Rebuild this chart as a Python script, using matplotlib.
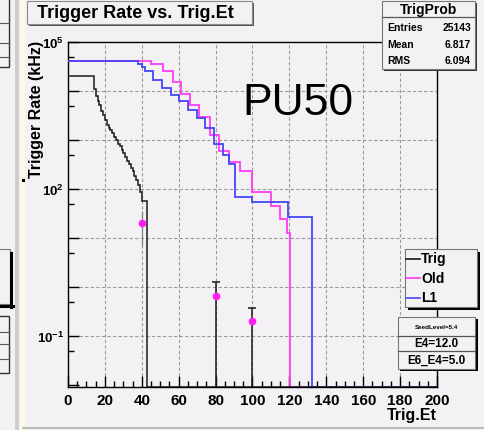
import matplotlib
matplotlib.use('Agg')
import matplotlib.pyplot as plt
from matplotlib.patches import Rectangle
from matplotlib.lines import Line2D
from matplotlib.ticker import FixedLocator, FuncFormatter, MultipleLocator

# ---------------- data ----------------
trig_edges = [0, 14, 15, 16, 17, 18, 19, 20, 21, 22, 23, 24, 25, 26, 27, 28, 29,
              30, 31, 32, 33, 34, 35, 36, 37, 38, 39, 40, 43, 200]
trig_vals = [20400, 11200, 7940, 6310, 5130, 3980, 3240, 2510, 2040, 1780, 1580,
             1380, 1170, 1000, 850, 740, 630, 540, 460, 380, 320, 270, 230, 186,
             151, 120, 89, 58, 0]

old_edges = [0, 45, 51.5, 57, 61.5, 66, 71, 77, 82, 87, 93, 100, 110, 115, 118.5, 120.5, 200]
old_vals = [41000, 36300, 25100, 15500, 8900, 5100, 2900, 1260, 600, 363, 229, 89,
            46, 25, 12.6, 0]

l1_edges = [0, 38, 40, 42, 46, 51, 56, 60, 65, 70, 74, 79, 84, 87, 90.5, 100, 119.5, 132, 200]
l1_vals = [41000, 35500, 31600, 25100, 16600, 11500, 8300, 6300, 4170, 2820, 1780,
           830, 490, 330, 69, 55, 27.5, 0]

pt_x = [40, 80, 100]
pt_y = [20, 0.67, 0.2]
pt_err_hi = [35, 1.25, 0.38]
pt_err_lo = [7, 0, 0]

stats_names = ["Entries", "Mean", "RMS"]
stats_values = ["25143", "6.817", "6.094"]
legend_names = ["Trig", "Old", "L1"]
info_lines = ["SeedLevel=5.4", "E4=12.0", "E6_E4=5.0"]

xticks = [0, 20, 40, 60, 80, 100, 120, 140, 160, 180, 200]

# ---------------- style ----------------
W, H = 484, 431
BG = '#f4f1f4'
MAG = '#ff3cf4'
BLUE = '#4646f5'
FONT = 'Liberation Sans'
plt.rcParams['font.family'] = [FONT, 'DejaVu Sans']
plt.rcParams['mathtext.fontset'] = 'custom'
plt.rcParams['mathtext.rm'] = FONT + ':bold'
plt.rcParams['mathtext.it'] = FONT + ':bold'
plt.rcParams['mathtext.bf'] = FONT + ':bold'

YMIN, YMAX = 9.2e-3, 1e5

fig = plt.figure(figsize=(W / 100, H / 100), dpi=100, facecolor=BG)


def fx(px):
    return px / W


def fy(py):
    return 1 - py / H


def rect(x0, y0, x1, y1, **kw):
    r = Rectangle((fx(x0), fy(y1)), (x1 - x0) / W, (y1 - y0) / H,
                  transform=fig.transFigure, **kw)
    fig.add_artist(r)
    return r


def hline(x0, x1, y, **kw):
    fig.add_artist(Line2D([fx(x0), fx(x1)], [fy(y), fy(y)], transform=fig.transFigure, **kw))


def vline(x, y0, y1, **kw):
    fig.add_artist(Line2D([fx(x), fx(x)], [fy(y0), fy(y1)], transform=fig.transFigure, **kw))


# ---------------- left neighbour pad decorations ----------------
rect(-5, -5, 9, 68, facecolor=BG, edgecolor='#333333', lw=1.0, zorder=1)
for yy in (24, 44, 58):
    hline(0, 9, yy, color='#555555', lw=0.8)
rect(-5, 250, 10, 305, facecolor=BG, edgecolor='#777777', lw=0.8)
vline(11.3, 254, 308, color='black', lw=2.2)
hline(0, 12.5, 307, color='black', lw=2.2)
rect(-5, 317, 9, 374, facecolor=BG, edgecolor='#333333', lw=1.0)
for yy in (333, 345, 360):
    hline(0, 9, yy, color='#555555', lw=0.8)
rect(15.5, -2, 18.5, 433, facecolor='#cfcccf', edgecolor='none')
rect(19.5, -2, 25, 433, facecolor='#fbf8e4', edgecolor='none')
rect(22, 180, 24.5, 182.5, facecolor='black', edgecolor='none')
hline(23, 484, 428.5, color='#bdbbbd', lw=1.5)

# ---------------- main axes ----------------
ax = fig.add_axes([fx(68), fy(388), (437 - 68) / W, (388 - 43) / H])
ax.set_facecolor(BG)
ax.set_yscale('log')
ax.set_xlim(0, 200)
ax.set_ylim(YMIN, YMAX)


def floor(vals):
    return [v if v > 0 else YMIN for v in vals]


ax.stairs(floor(trig_vals), trig_edges, baseline=None, color='#1a1a1a', lw=1.1, zorder=4)
ax.stairs(floor(old_vals), old_edges, baseline=None, color=MAG, lw=1.3, zorder=3)
ax.stairs(floor(l1_vals), l1_edges, baseline=None, color=BLUE, lw=1.3, zorder=3)

for x, y, hi, lo in zip(pt_x, pt_y, pt_err_hi, pt_err_lo):
    lo_v = lo if lo > 0 else YMIN
    if lo > 0:
        ax.vlines(x, lo_v, hi, color='#7a8a80', lw=0.9, zorder=5)
    else:
        ax.vlines(x, lo_v, hi, color='#1a1a1a', lw=1.1, zorder=5)
        ax.plot([x], [hi], marker='_', ms=6, mew=1.1, color='#1a1a1a', zorder=5)
ax.plot(pt_x, pt_y, 'o', ms=4.5, color='#ff1cf0', mec='#ff1cf0', zorder=6)

# grid
for gx in xticks[1:-1]:
    ax.axvline(gx, color='#9a9a9a', lw=0.8, ls=(0, (3, 2)), zorder=1)
for e in range(-1, 5):
    ax.axhline(10.0 ** e, color='#9a9a9a', lw=0.8, ls=(0, (3, 2)), zorder=1)

# ticks
ax.xaxis.set_major_locator(FixedLocator(xticks))
ax.xaxis.set_minor_locator(MultipleLocator(5))
ax.yaxis.set_major_locator(FixedLocator([10.0 ** e for e in range(-2, 6)]))
ax.yaxis.set_minor_locator(FixedLocator([5 * 10.0 ** e for e in range(-3, 5)]))
labeled = {-1: r'$10^{-1}$', 2: r'$10^{2}$', 5: r'$10^{5}$'}


def yfmt(v, pos):
    import math
    e = int(round(math.log10(v)))
    return labeled.get(e, '')


ax.yaxis.set_major_formatter(FuncFormatter(yfmt))
ax.yaxis.set_minor_formatter(FuncFormatter(lambda v, p: ''))
ax.tick_params(axis='both', which='major', direction='in', length=8, width=1.0,
               labelsize=11, top=False, right=False)
ax.tick_params(axis='both', which='minor', direction='in', length=4, width=1.0,
               top=False, right=False)
ax.tick_params(axis='x', pad=4)
ax.tick_params(axis='y', pad=3, labelsize=9.5)
for lab in ax.get_xticklabels():
    lab.set_fontweight('bold')
for s in ax.spines.values():
    s.set_color('black')
    s.set_linewidth(1.0)

# axis titles
fig.text(fx(36.5), fy(41), 'Trigger Rate (kHz)', rotation=90, ha='center', va='top',
         fontsize=11.5, fontweight='bold')
fig.text(fx(437), fy(416), 'Trig.Et', ha='right', va='center', fontsize=11.5,
         fontweight='bold')

# PU50
fig.text(fx(242), fy(115), 'PU50', ha='left', va='baseline', fontsize=32)

# ---------------- title box ----------------
rect(29, 4, 254, 27, facecolor='#555555', edgecolor='none', zorder=9)
rect(27, 2, 252, 25, facecolor=BG, edgecolor='#8a8a8a', lw=0.8, zorder=10)
fig.text(fx(37), fy(14), 'Trigger Rate vs. Trig.Et', ha='left', va='center',
         fontsize=13, fontweight='bold', zorder=11)

# ---------------- stats box ----------------
rect(384, 4, 477, 72, facecolor='#333333', edgecolor='none', zorder=9)
rect(382, 2, 475, 70, facecolor=BG, edgecolor='#777777', lw=0.8, zorder=10)
hline(382, 475, 17.5, color='#555555', lw=0.9, zorder=11)
fig.text(fx(428.5), fy(10), 'TrigProb', ha='center', va='center', fontsize=10,
         fontweight='bold', zorder=11)
for i, (n, v) in enumerate(zip(stats_names, stats_values)):
    yy = 28 + i * 16.5
    fig.text(fx(387), fy(yy), n, ha='left', va='center', fontsize=7.5,
             fontweight='bold', zorder=11)
    fig.text(fx(471), fy(yy), v, ha='right', va='center', fontsize=7.5,
             fontweight='bold', zorder=11)

# ---------------- legend box ----------------
rect(408, 253, 480, 311, facecolor='black', edgecolor='none', zorder=9)
rect(405, 250, 476.5, 308, facecolor=BG, edgecolor='#777777', lw=0.8, zorder=10)
for i, (n, c) in enumerate(zip(legend_names, ['#1a1a1a', MAG, BLUE])):
    yy = 259.5 + i * 19.5
    hline(406, 420, yy, color=c, lw=1.2, zorder=11)
    fig.text(fx(421), fy(yy), n, ha='left', va='center', fontsize=10,
             fontweight='bold', zorder=11)

# ---------------- info box ----------------
rect(400, 320, 478, 372, facecolor='black', edgecolor='none', zorder=9)
rect(398, 318, 475, 370, facecolor=BG, edgecolor='#777777', lw=0.8, zorder=10)
hline(398, 475, 336.5, color='#555555', lw=0.9, zorder=11)
hline(398, 475, 352, color='#555555', lw=0.9, zorder=11)
fig.text(fx(436.5), fy(327.5), info_lines[0], ha='center', va='center', fontsize=4.5,
         fontweight='bold', zorder=11)
fig.text(fx(436.5), fy(344), info_lines[1], ha='center', va='center', fontsize=8.5,
         fontweight='bold', zorder=11)
fig.text(fx(436.5), fy(361), info_lines[2], ha='center', va='center', fontsize=8.5,
         fontweight='bold', zorder=11)

fig.savefig('out.png', dpi=100, facecolor=BG)
